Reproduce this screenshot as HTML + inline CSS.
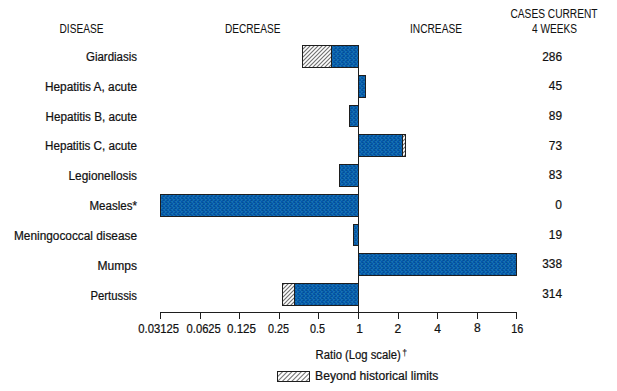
<!DOCTYPE html>
<html><head><meta charset="utf-8"><style>
html,body{margin:0;padding:0;background:#fff;}
svg{display:block;font-family:"Liberation Sans", sans-serif;}
text{fill:#111;stroke:#111;stroke-width:0.22px;}
</style></head><body>
<svg width="617" height="391" viewBox="0 0 617 391">
<defs>
<pattern id="hatch" patternUnits="userSpaceOnUse" width="4" height="4">
<rect width="4" height="4" fill="#fff"/>
<path d="M-1,1 l2,-2 M0,4 l4,-4 M3,5 l2,-2" stroke="#707070" stroke-width="1.15"/>
</pattern>
<pattern id="blue" patternUnits="userSpaceOnUse" width="4" height="4">
<rect width="4" height="4" fill="#0457ae"/>
<rect x="1" y="0" width="1" height="1" fill="#1575a4"/><rect x="3" y="1" width="1" height="1" fill="#1575a4"/>
<rect x="0" y="2" width="1" height="1" fill="#1575a4"/><rect x="2" y="3" width="1" height="1" fill="#1575a4"/>
<rect x="3" y="0" width="1" height="1" fill="#0a4d8f"/><rect x="0" y="1" width="1" height="1" fill="#1a6db8"/>
<rect x="2" y="2" width="1" height="1" fill="#0a4d8f"/><rect x="1" y="3" width="1" height="1" fill="#1a6db8"/>
</pattern>
<clipPath id="lc"><rect x="278" y="372" width="31" height="9"/></clipPath>
</defs>
<text x="59.5" y="33" font-size="12" text-anchor="start" textLength="44" lengthAdjust="spacingAndGlyphs" style="stroke-width:0.05px">DISEASE</text>
<text x="225" y="33" font-size="12" text-anchor="start" textLength="55.5" lengthAdjust="spacingAndGlyphs" style="stroke-width:0.05px">DECREASE</text>
<text x="410" y="33" font-size="12" text-anchor="start" textLength="52" lengthAdjust="spacingAndGlyphs" style="stroke-width:0.05px">INCREASE</text>
<text x="510.5" y="18" font-size="12" text-anchor="start" textLength="87" lengthAdjust="spacingAndGlyphs" style="stroke-width:0.05px">CASES CURRENT</text>
<text x="532" y="33" font-size="12" text-anchor="start" textLength="45" lengthAdjust="spacingAndGlyphs" style="stroke-width:0.05px">4 WEEKS</text>
<text x="86" y="60.5" font-size="12" text-anchor="start" textLength="51" lengthAdjust="spacingAndGlyphs">Giardiasis</text>
<text x="562.0" y="60.8" font-size="12" text-anchor="end" textLength="19.8" lengthAdjust="spacingAndGlyphs">286</text>
<text x="45" y="91.2" font-size="12" text-anchor="start" textLength="92" lengthAdjust="spacingAndGlyphs">Hepatitis A, acute</text>
<text x="562.0" y="90.45" font-size="12" text-anchor="end" textLength="13.2" lengthAdjust="spacingAndGlyphs">45</text>
<text x="45.5" y="121.1" font-size="12" text-anchor="start" textLength="91.5" lengthAdjust="spacingAndGlyphs">Hepatitis B, acute</text>
<text x="562.0" y="120.1" font-size="12" text-anchor="end" textLength="13.2" lengthAdjust="spacingAndGlyphs">89</text>
<text x="45" y="150.2" font-size="12" text-anchor="start" textLength="92" lengthAdjust="spacingAndGlyphs">Hepatitis C, acute</text>
<text x="562.0" y="149.75" font-size="12" text-anchor="end" textLength="13.2" lengthAdjust="spacingAndGlyphs">73</text>
<text x="68.5" y="180.1" font-size="12" text-anchor="start" textLength="68.5" lengthAdjust="spacingAndGlyphs">Legionellosis</text>
<text x="562.0" y="179.4" font-size="12" text-anchor="end" textLength="13.2" lengthAdjust="spacingAndGlyphs">83</text>
<text x="89.5" y="210" font-size="12" text-anchor="start" textLength="47.5" lengthAdjust="spacingAndGlyphs">Measles*</text>
<text x="562.0" y="209.05" font-size="12" text-anchor="end">0</text>
<text x="14" y="240" font-size="12" text-anchor="start" textLength="123" lengthAdjust="spacingAndGlyphs">Meningococcal disease</text>
<text x="562.0" y="238.7" font-size="12" text-anchor="end" textLength="13.2" lengthAdjust="spacingAndGlyphs">19</text>
<text x="97.5" y="269.8" font-size="12" text-anchor="start" textLength="39.5" lengthAdjust="spacingAndGlyphs">Mumps</text>
<text x="562.0" y="268.35" font-size="12" text-anchor="end" textLength="19.8" lengthAdjust="spacingAndGlyphs">338</text>
<text x="90.5" y="299.7" font-size="12" text-anchor="start" textLength="46.5" lengthAdjust="spacingAndGlyphs">Pertussis</text>
<text x="562.0" y="298.0" font-size="12" text-anchor="end" textLength="19.8" lengthAdjust="spacingAndGlyphs">314</text>
<rect x="331.5" y="45.5" width="27" height="22" fill="url(#blue)" stroke="#1e1e1e" stroke-width="1"/>
<rect x="302.5" y="45.5" width="29" height="22" fill="url(#hatch)" stroke="#1e1e1e" stroke-width="1"/>
<rect x="358.5" y="75.5" width="7" height="22" fill="url(#blue)" stroke="#1e1e1e" stroke-width="1"/>
<rect x="349.5" y="105.5" width="9" height="21" fill="url(#blue)" stroke="#1e1e1e" stroke-width="1"/>
<rect x="358.5" y="134.5" width="44" height="22" fill="url(#blue)" stroke="#1e1e1e" stroke-width="1"/>
<rect x="402.5" y="134.5" width="3" height="22" fill="url(#hatch)" stroke="#1e1e1e" stroke-width="1"/>
<rect x="339.5" y="164.5" width="19" height="22" fill="url(#blue)" stroke="#1e1e1e" stroke-width="1"/>
<rect x="160.5" y="194.5" width="198" height="22" fill="url(#blue)" stroke="#1e1e1e" stroke-width="1"/>
<rect x="353.5" y="224.5" width="5" height="21" fill="url(#blue)" stroke="#1e1e1e" stroke-width="1"/>
<rect x="358.5" y="253.5" width="158" height="22" fill="url(#blue)" stroke="#1e1e1e" stroke-width="1"/>
<rect x="294.5" y="283.5" width="64" height="22" fill="url(#blue)" stroke="#1e1e1e" stroke-width="1"/>
<rect x="282.5" y="283.5" width="12" height="22" fill="url(#hatch)" stroke="#1e1e1e" stroke-width="1"/>
<line x1="358.5" y1="45" x2="358.5" y2="312" stroke="#1e1e1e" stroke-width="1"/>
<line x1="160" y1="312.5" x2="517" y2="312.5" stroke="#1e1e1e" stroke-width="1"/>
<line x1="160.5" y1="312" x2="160.5" y2="319" stroke="#1e1e1e" stroke-width="1"/>
<text x="138.3" y="332.5" font-size="12" text-anchor="start" textLength="40.8" lengthAdjust="spacingAndGlyphs">0.03125</text>
<line x1="200.5" y1="312" x2="200.5" y2="319" stroke="#1e1e1e" stroke-width="1"/>
<text x="186.6" y="332.5" font-size="12" text-anchor="start" textLength="34.2" lengthAdjust="spacingAndGlyphs">0.0625</text>
<line x1="239.5" y1="312" x2="239.5" y2="319" stroke="#1e1e1e" stroke-width="1"/>
<text x="227.0" y="332.5" font-size="12" text-anchor="start" textLength="29" lengthAdjust="spacingAndGlyphs">0.125</text>
<line x1="279.5" y1="312" x2="279.5" y2="319" stroke="#1e1e1e" stroke-width="1"/>
<text x="268.0" y="332.5" font-size="12" text-anchor="start" textLength="21" lengthAdjust="spacingAndGlyphs">0.25</text>
<line x1="318.5" y1="312" x2="318.5" y2="319" stroke="#1e1e1e" stroke-width="1"/>
<text x="310" y="332.5" font-size="12" text-anchor="start" textLength="15" lengthAdjust="spacingAndGlyphs">0.5</text>
<line x1="358.5" y1="312" x2="358.5" y2="319" stroke="#1e1e1e" stroke-width="1"/>
<text x="356.2" y="332.5" font-size="12" text-anchor="start">1</text>
<line x1="398.5" y1="312" x2="398.5" y2="319" stroke="#1e1e1e" stroke-width="1"/>
<text x="394.6" y="332.5" font-size="12" text-anchor="start">2</text>
<line x1="437.5" y1="312" x2="437.5" y2="319" stroke="#1e1e1e" stroke-width="1"/>
<text x="434.3" y="332.5" font-size="12" text-anchor="start">4</text>
<line x1="477.5" y1="312" x2="477.5" y2="319" stroke="#1e1e1e" stroke-width="1"/>
<text x="474" y="331.7" font-size="12" text-anchor="start">8</text>
<line x1="516.5" y1="312" x2="516.5" y2="319" stroke="#1e1e1e" stroke-width="1"/>
<text x="511.3" y="332.5" font-size="12" text-anchor="start" textLength="12" lengthAdjust="spacingAndGlyphs">16</text>
<text x="315.6" y="359" font-size="12" text-anchor="start" textLength="85.2" lengthAdjust="spacingAndGlyphs">Ratio (Log scale)</text>
<text x="402.2" y="356.4" font-size="9" text-anchor="start" textLength="4.8" lengthAdjust="spacingAndGlyphs" style="stroke-width:0.1px">†</text>
<rect x="277.5" y="371.5" width="32" height="10" fill="#fff"/>
<g clip-path="url(#lc)"><path d="M262.90,382 L273.90,371 M267.60,382 L278.60,371 M272.30,382 L283.30,371 M277.00,382 L288.00,371 M281.70,382 L292.70,371 M286.40,382 L297.40,371 M291.10,382 L302.10,371 M295.80,382 L306.80,371 M300.50,382 L311.50,371 M305.20,382 L316.20,371 M309.90,382 L320.90,371 M314.60,382 L325.60,371 M319.30,382 L330.30,371 M324.00,382 L335.00,371 M328.70,382 L339.70,371 " stroke="#7a7a7a" stroke-width="1.1" fill="none"/></g>
<rect x="277.5" y="371.5" width="32" height="10" fill="none" stroke="#1e1e1e" stroke-width="1"/>
<text x="315.1" y="380.4" font-size="12" text-anchor="start" textLength="123.3" lengthAdjust="spacingAndGlyphs">Beyond historical limits</text>
</svg>
</body></html>
